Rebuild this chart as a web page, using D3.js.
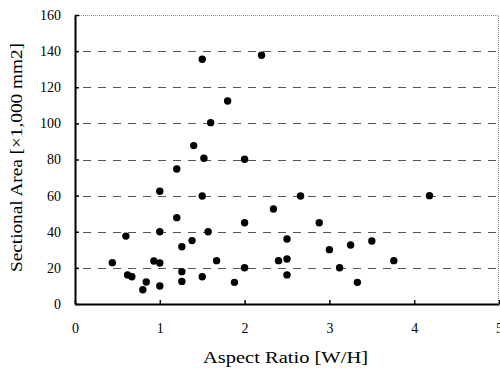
<!DOCTYPE html>
<html>
<head>
<meta charset="utf-8">
<script src="https://cdn.jsdelivr.net/npm/d3@7"></script>
<style>
  body { margin: 0; background: #fff; }
  svg { display: block; }
  .axis text { font-family: "Liberation Serif", "Times New Roman", serif; font-size: 14px; fill: #000; }
  .title { font-family: "Liberation Serif", "Times New Roman", serif; font-size: 17px; fill: #000; }
</style>
</head>
<body>
<div id="chart"></div>
<script>
// aspect ratio W/H
const aspect = [
  1.50, 1.80, 1.60, 1.40, 1.52, 2.00, 1.20, 2.20,
  1.00, 1.50, 1.20, 2.00, 0.60, 1.00, 1.57, 1.38, 1.26,
  0.44, 0.93, 1.00, 1.67, 2.00, 1.26, 0.62, 0.67, 1.50,
  1.26, 0.84, 1.88, 0.80, 1.00,
  2.66, 4.18, 2.34, 2.88, 2.50, 3.00, 3.25, 3.50,
  2.40, 2.50, 3.76, 3.12, 2.50, 3.33
]
// sectional area, x1000 mm2
const area = [
  135.5, 112.4, 100.4, 87.7, 80.7, 80.1, 74.7, 137.7,
  62.4, 59.8, 47.8, 45.0, 37.6, 40.0, 40.0, 35.1, 31.7,
  22.9, 23.8, 22.7, 24.0, 20.1, 17.9, 16.1, 15.1, 15.1,
  12.5, 12.2, 12.0, 7.9, 10.0,
  59.8, 60.0, 52.6, 45.0, 36.0, 30.1, 32.7, 34.9,
  24.0, 24.9, 24.0, 20.1, 16.1, 12.0
]
const xTicks = [0, 1, 2, 3, 4, 5]
const yTicks = [0, 20, 40, 60, 80, 100, 120, 140, 160]

const W = 500, H = 368
const margin = { top: 15, right: 1, bottom: 64, left: 75 }

const svg = d3.select('#chart').append('svg')
  .attr('width', W)
  .attr('height', H)

const x = d3.scaleLinear().domain([0, 5]).range([margin.left, W - margin.right])
const y = d3.scaleLinear().domain([0, 160]).range([H - margin.bottom, margin.top])

// dashed gridlines
svg.append('g')
  .selectAll('line')
  .data(yTicks.filter(d => d > 0 && d < 160))
  .enter()
  .append('line')
  .attr('x1', x(0) + 1)
  .attr('x2', x(5))
  .attr('y1', d => Math.round(y(d)) + 0.5)
  .attr('y2', d => Math.round(y(d)) + 0.5)
  .style('stroke', '#555')
  .style('stroke-width', 1)
  .style('stroke-dasharray', '8,7')
  .style('stroke-dashoffset', -7)

// dotted top and right border
svg.append('path')
  .attr('d', `M${x(0)},${y(160) + 0.5}H${x(5) - 0.5}V${y(0)}`)
  .style('fill', 'none')
  .style('stroke', '#888')
  .style('stroke-width', 1)
  .style('stroke-dasharray', '1,1')

const yAxis = svg.append('g')
  .attr('class', 'axis')
  .attr('transform', `translate(${x(0)},0)`)
  .call(d3.axisLeft(y).tickValues(yTicks).tickFormat(d3.format('d'))
    .tickSizeInner(-4).tickSizeOuter(0).tickPadding(14))

const xAxis = svg.append('g')
  .attr('class', 'axis')
  .attr('transform', `translate(0,${y(0)})`)
  .call(d3.axisBottom(x).tickValues(xTicks).tickFormat(d3.format('d'))
    .tickSizeInner(-4).tickSizeOuter(0).tickPadding(19))

svg.selectAll('.axis .domain').style('stroke', '#000').style('stroke-width', 2)
svg.selectAll('.axis .tick line').style('stroke', '#000').style('stroke-width', 1.5)

// points
svg.append('g')
  .selectAll('circle')
  .data(aspect.map((a, i) => [a, area[i]]))
  .enter()
  .append('circle')
  .attr('cx', d => x(d[0]))
  .attr('cy', d => y(d[1]))
  .attr('r', 3.7)
  .style('fill', '#000')

svg.append('text')
  .attr('class', 'title')
  .attr('x', 285.5)
  .attr('y', 363)
  .attr('text-anchor', 'middle')
  .attr('textLength', 165)
  .attr('lengthAdjust', 'spacingAndGlyphs')
  .text('Aspect Ratio [W/H]')

svg.append('text')
  .attr('class', 'title')
  .attr('transform', 'translate(22,157.5) rotate(-90)')
  .attr('text-anchor', 'middle')
  .attr('textLength', 229)
  .attr('lengthAdjust', 'spacingAndGlyphs')
  .text('Sectional Area [×1,000 mm2]')
</script>
</body>
</html>
